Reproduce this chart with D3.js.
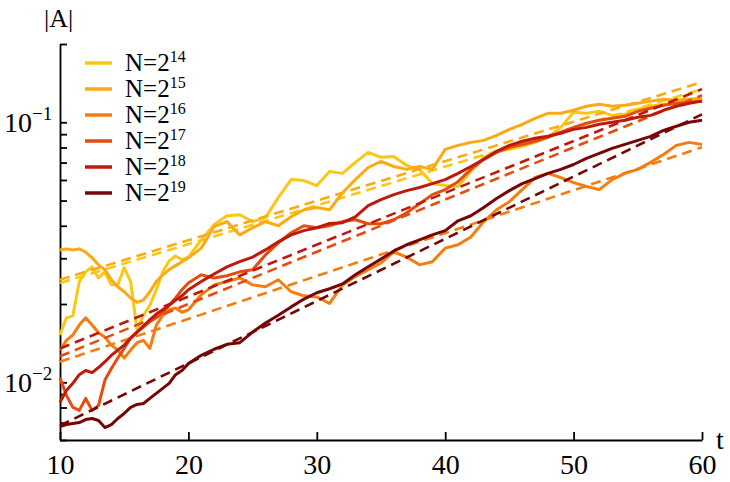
<!DOCTYPE html>
<html>
<head>
<meta charset="utf-8">
<script src="https://cdn.jsdelivr.net/npm/d3@7/dist/d3.min.js"></script>
<style>
  body { margin: 0; background: #fff; }
  svg text { font-family: "Liberation Serif", "DejaVu Serif", serif; fill: #000; }
</style>
</head>
<body>
<div class="canvas"></div>
<script>
// sample times (half steps up to t=20)
const times = [10, 10.5, 11, 11.5, 12, 12.5, 13, 13.5, 14, 14.5, 15, 15.5, 16, 16.5, 17, 17.5, 18, 18.5, 19, 19.5, 20,
  21, 22, 23, 24, 25, 26, 27, 28, 29, 30, 31, 32, 33, 34, 35, 36, 37, 38, 39, 40,
  41, 42, 43, 44, 45, 46, 47, 48, 49, 50, 51, 52, 53, 54, 55, 56, 57, 58, 59, 60];

const amp14 = [0.0152, 0.0177, 0.0180, 0.0244, 0.0266, 0.0278, 0.0252, 0.0266, 0.0237, 0.0237, 0.0276, 0.0244, 0.0159, 0.0181, 0.0198, 0.0227, 0.0266, 0.0293, 0.0306, 0.0296, 0.0303,
  0.0353, 0.0404, 0.0437, 0.0441, 0.0415, 0.0430, 0.0513, 0.0602, 0.0597, 0.0571, 0.0647, 0.0636, 0.0701, 0.0766, 0.0733, 0.0739, 0.0682, 0.0659, 0.0581, 0.0571,
  0.0566, 0.0647, 0.0733, 0.0773, 0.0787, 0.0808, 0.0837, 0.0876, 0.0956, 0.1093, 0.1083, 0.1102, 0.1063, 0.1073, 0.1122, 0.1152, 0.1173, 0.1184, 0.1195, 0.1217];
const amp15 = [0.0323, 0.0326, 0.0323, 0.0326, 0.0317, 0.0301, 0.0283, 0.0271, 0.0248, 0.0233, 0.0223, 0.0211, 0.0203, 0.0207, 0.0223, 0.0244, 0.0259, 0.0271, 0.0281, 0.0291, 0.0301,
  0.0328, 0.0397, 0.0415, 0.0369, 0.0393, 0.0415, 0.0400, 0.0433, 0.0461, 0.0470, 0.0461, 0.0536, 0.0602, 0.0670, 0.0707, 0.0676, 0.0659, 0.0676, 0.0659, 0.0787,
  0.0815, 0.0837, 0.0852, 0.0891, 0.0939, 0.0982, 0.1036, 0.1083, 0.1083, 0.1112, 0.1152, 0.1173, 0.1152, 0.1163, 0.1184, 0.1206, 0.1227, 0.1217, 0.1227, 0.1238];
const amp16 = [0.0133, 0.0145, 0.0152, 0.0166, 0.0177, 0.0166, 0.0155, 0.0149, 0.0139, 0.0133, 0.0124, 0.0133, 0.0142, 0.0145, 0.0135, 0.0166, 0.0181, 0.0190, 0.0193, 0.0186, 0.0190,
  0.0217, 0.0237, 0.0244, 0.0252, 0.0237, 0.0233, 0.0248, 0.0223, 0.0215, 0.0213, 0.0201, 0.0237, 0.0255, 0.0271, 0.0288, 0.0317, 0.0303, 0.0283, 0.0291, 0.0328,
  0.0338, 0.0362, 0.0415, 0.0461, 0.0495, 0.0551, 0.0613, 0.0636, 0.0613, 0.0586, 0.0566, 0.0551, 0.0602, 0.0636, 0.0659, 0.0701, 0.0752, 0.0815, 0.0837, 0.0822];
const amp17 = [0.0104, 0.00891, 0.00801, 0.00780, 0.00867, 0.00780, 0.00815, 0.0102, 0.0113, 0.0124, 0.0135, 0.0148, 0.0156, 0.0163, 0.0171, 0.0177, 0.0185, 0.0198, 0.0211, 0.0227, 0.0241,
  0.0259, 0.0252, 0.0257, 0.0266, 0.0271, 0.0309, 0.0344, 0.0376, 0.0400, 0.0393, 0.0400, 0.0415, 0.0422, 0.0407, 0.0407, 0.0422, 0.0449, 0.0486, 0.0527, 0.0551,
  0.0591, 0.0659, 0.0720, 0.0766, 0.0801, 0.0822, 0.0845, 0.0876, 0.0916, 0.0956, 0.0991, 0.1018, 0.1036, 0.1054, 0.1102, 0.1132, 0.1163, 0.1184, 0.1195, 0.1206];
const amp18 = [0.00837, 0.00931, 0.00991, 0.0107, 0.0111, 0.0109, 0.0114, 0.0120, 0.0127, 0.0133, 0.0139, 0.0148, 0.0156, 0.0165, 0.0174, 0.0183, 0.0190, 0.0198, 0.0207, 0.0215, 0.0227,
  0.0244, 0.0261, 0.0278, 0.0291, 0.0303, 0.0323, 0.0347, 0.0369, 0.0383, 0.0393, 0.0408, 0.0411, 0.0433, 0.0478, 0.0504, 0.0527, 0.0546, 0.0561, 0.0581, 0.0602,
  0.0636, 0.0676, 0.0720, 0.0773, 0.0815, 0.0845, 0.0868, 0.0883, 0.0907, 0.0939, 0.0956, 0.0982, 0.1000, 0.1018, 0.1046, 0.1063, 0.1112, 0.1152, 0.1184, 0.1206];
const amp19 = [0.00676, 0.00688, 0.00694, 0.00700, 0.00719, 0.00726, 0.00713, 0.00670, 0.00688, 0.00726, 0.00759, 0.00801, 0.00822, 0.00829, 0.00867, 0.00907, 0.00948, 0.00991, 0.0107, 0.0111, 0.0118,
  0.0127, 0.0134, 0.0140, 0.0142, 0.0156, 0.0169, 0.0181, 0.0195, 0.0209, 0.0221, 0.0229, 0.0239, 0.0259, 0.0278, 0.0298, 0.0320, 0.0338, 0.0353, 0.0369, 0.0383,
  0.0418, 0.0437, 0.0470, 0.0509, 0.0546, 0.0581, 0.0607, 0.0636, 0.0659, 0.0688, 0.0726, 0.0759, 0.0794, 0.0822, 0.0852, 0.0883, 0.0931, 0.0965, 0.1000, 0.1018];

// exponential fits: value at t=10 and at t=60
const fitAt10 = [0.0241, 0.0248, 0.0120, 0.0126, 0.0135, 0.00682];
const fitAt60 = [0.1341, 0.1427, 0.0801, 0.1271, 0.1341, 0.1073];

const exponents = [14, 15, 16, 17, 18, 19];
const colors = ["#fac814", "#faaa14", "#f57d0f", "#e64b0f", "#be190a", "#780505"];
const xTicks = [10, 20, 30, 40, 50, 60];
const yMajor = [0.01, 0.1];
const yMinor = [0.006, 0.007, 0.008, 0.009, 0.02, 0.03, 0.04, 0.05, 0.06, 0.07, 0.08, 0.09, 0.2];

const series = [amp14, amp15, amp16, amp17, amp18, amp19];

const svg = d3.select(".canvas").append("svg")
  .attr("width", 730)
  .attr("height", 482);

const x = d3.scaleLinear().domain([10, 60]).range([60, 702]);
const y = d3.scaleLog().domain([0.006, 0.2]).range([440, 44]);

// axes, ticks pointing inward
const xAxis = svg.append("g")
  .attr("transform", "translate(0,440)")
  .call(d3.axisBottom(x).tickValues(xTicks).tickFormat(d3.format("d"))
    .tickSizeInner(-8).tickSizeOuter(0).tickPadding(14));
xAxis.selectAll("text").style("font-size", "28px");

svg.append("g")
  .attr("transform", "translate(60,0)")
  .call(d3.axisLeft(y).tickValues(yMajor.concat(yMinor)).tickFormat("")
    .tickSizeInner(-7).tickSizeOuter(0));

svg.selectAll(".domain, .tick line")
  .attr("stroke", "#000")
  .attr("stroke-width", 1.8);

// y tick labels as 10^k
yMajor.forEach(v => {
  const t = svg.append("text")
    .attr("x", 4)
    .attr("y", y(v) + 10)
    .style("font-size", "28px")
    .text("10");
  t.append("tspan")
    .attr("dy", -12)
    .style("font-size", "19px")
    .text("\u2212" + Math.round(-Math.log10(v)));
});

svg.append("text")
  .attr("x", 716)
  .attr("y", 449)
  .style("font-size", "28px")
  .text("t");

svg.append("text")
  .attr("x", 44)
  .attr("y", 27)
  .style("font-size", "26px")
  .text("|A|");

const line = d3.line()
  .x(d => x(d[0]))
  .y(d => y(d[1]));

series.forEach((vals, i) => {
  svg.append("path")
    .datum(times.map((t, j) => [t, vals[j]]))
    .attr("fill", "none")
    .attr("stroke", colors[i])
    .attr("stroke-width", 3)
    .attr("stroke-linejoin", "round")
    .attr("d", line);

  svg.append("path")
    .datum([[10, fitAt10[i]], [60, fitAt60[i]]])
    .attr("fill", "none")
    .attr("stroke", colors[i])
    .attr("stroke-width", 2.6)
    .attr("stroke-dasharray", "10,6")
    .attr("d", line);
});

// legend
const legend = svg.append("g");
exponents.forEach((e, i) => {
  const ly = 63 + i * 26;
  legend.append("line")
    .attr("x1", 85).attr("x2", 112)
    .attr("y1", ly).attr("y2", ly)
    .attr("stroke", colors[i])
    .attr("stroke-width", 3.5);
  const t = legend.append("text")
    .attr("x", 125)
    .attr("y", ly + 8)
    .style("font-size", "25px")
    .text("N=2");
  t.append("tspan")
    .attr("dy", -9)
    .style("font-size", "16px")
    .text(e);
});
</script>
</body>
</html>
